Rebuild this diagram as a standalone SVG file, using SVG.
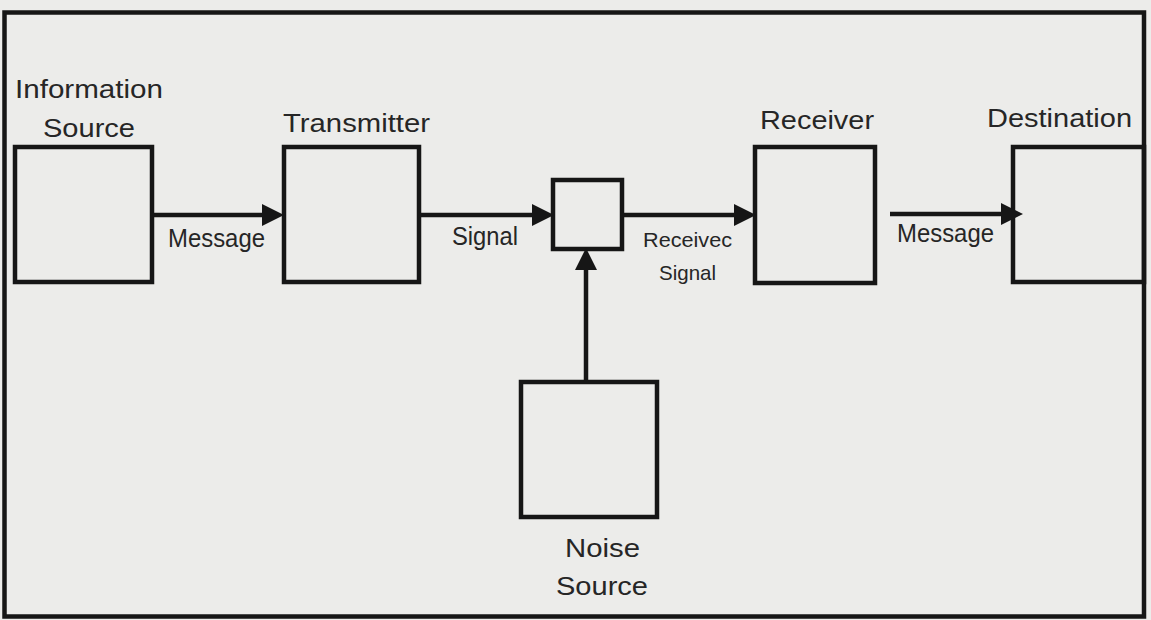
<svg xmlns="http://www.w3.org/2000/svg" width="1151" height="620" viewBox="0 0 1151 620">
<defs>
<style>
.box{fill:none;stroke:#161616;stroke-width:4.5}
.wire{fill:none;stroke:#161616;stroke-width:4.5}
.lbl{font-family:"Liberation Sans",Arial,sans-serif;font-size:26px;fill:#262626}
.sm{font-family:"Liberation Sans",Arial,sans-serif;font-size:21px;fill:#262626}
</style>
<marker id="ah" markerUnits="userSpaceOnUse" markerWidth="22" markerHeight="22" viewBox="0 0 20 20" refX="10" refY="10" orient="auto">
<path d="M0,0 L20,10 L0,20 z" fill="#161616"/>
</marker>
</defs>
<rect x="0" y="0" width="1151" height="620" fill="#ececea"/>
<rect x="4.5" y="12.5" width="1139.5" height="604" fill="none" stroke="#161616" stroke-width="4.5"/>
<g id="info-source">
<rect class="box" x="15" y="147" width="137" height="135"/>
<text class="lbl" x="15" y="98" textLength="148" lengthAdjust="spacingAndGlyphs">Information</text>
<text class="lbl" x="43" y="137" textLength="92" lengthAdjust="spacingAndGlyphs">Source</text>
</g>
<g id="transmitter">
<rect class="box" x="284" y="147" width="135" height="135"/>
<text class="lbl" x="283" y="132" textLength="147" lengthAdjust="spacingAndGlyphs">Transmitter</text>
</g>
<g id="channel">
<rect class="box" x="553" y="180" width="69" height="69"/>
</g>
<g id="receiver">
<rect class="box" x="755" y="147" width="120" height="136"/>
<text class="lbl" x="760" y="129" textLength="114" lengthAdjust="spacingAndGlyphs">Receiver</text>
</g>
<g id="destination">
<rect class="box" x="1013" y="147" width="131" height="135"/>
<text class="lbl" x="987" y="127" textLength="145" lengthAdjust="spacingAndGlyphs">Destination</text>
</g>
<g id="noise-source">
<rect class="box" x="521" y="382" width="136" height="135"/>
<text class="lbl" x="565" y="557" textLength="75" lengthAdjust="spacingAndGlyphs">Noise</text>
<text class="lbl" x="556" y="595" textLength="92" lengthAdjust="spacingAndGlyphs">Source</text>
</g>
<g id="connectors">
<line class="wire" x1="152" y1="215" x2="273" y2="215" marker-end="url(#ah)"/>
<text class="lbl" x="168" y="247" textLength="97" lengthAdjust="spacingAndGlyphs">Message</text>
<line class="wire" x1="419" y1="215" x2="543" y2="215" marker-end="url(#ah)"/>
<text class="lbl" x="452" y="245" textLength="66" lengthAdjust="spacingAndGlyphs">Signal</text>
<line class="wire" x1="622" y1="215" x2="745" y2="215" marker-end="url(#ah)"/>
<text class="sm" x="643" y="247" textLength="89" lengthAdjust="spacingAndGlyphs">Receivec</text>
<text class="sm" x="659" y="280" textLength="57" lengthAdjust="spacingAndGlyphs">Signal</text>
<line class="wire" x1="890" y1="214" x2="1012" y2="214" marker-end="url(#ah)"/>
<text class="lbl" x="897" y="242" textLength="97" lengthAdjust="spacingAndGlyphs">Message</text>
<line class="wire" x1="586" y1="382" x2="586" y2="259" marker-end="url(#ah)"/>
</g>
</svg>
